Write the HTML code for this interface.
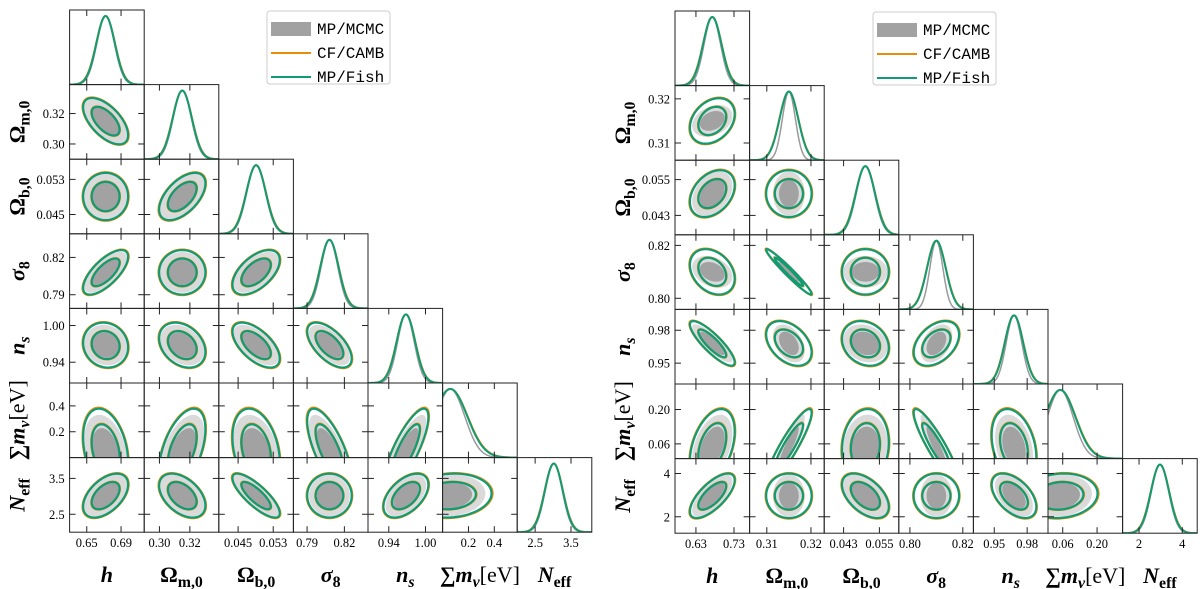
<!DOCTYPE html>
<html><head><meta charset="utf-8">
<style>
html,body{margin:0;padding:0;background:#fff;}
svg{display:block;}
</style></head>
<body>
<svg id="fig" width="1200" height="589" viewBox="0 0 1200 589" xmlns="http://www.w3.org/2000/svg"></svg>
<script>
// ---------- data: left panel ----------
const paramKeys = ['h','omega-m','omega-b','sigma8','ns','sum-mnu','neff'];
const lo1 = [0.630, 0.290, 0.0406, 0.779, 0.906, 0.0, 2.00];
const hi1 = [0.717, 0.339, 0.0576, 0.839, 1.028, 0.577, 4.08];
const mean1 = [0.672, 0.315, 0.0491, 0.808, 0.968, 0.06, 3.02];
const sig1 = [0.0107, 0.0062, 0.0022, 0.0073, 0.015, 0.13, 0.25];
const corr1 = [[],[-0.6],[0.0,0.55],[0.7,0.0,0.55],[-0.1,-0.3,-0.6,-0.6],[-0.3,0.5,-0.3,-0.7,0.8],[0.5,-0.45,-0.8,0.0,0.5,0.1]];
const mcmcScale1 = [0.95,0.95,0.96,0.92,0.9,0.85,0.95];
const ticks1 = [['0.65','0.69'],['0.30','0.32'],['0.045','0.053'],['0.79','0.82'],['0.94','1.00'],['0.2','0.4'],['2.5','3.5']];
// ---------- data: right panel ----------
const lo2 = [0.575, 0.3061, 0.0365, 0.7958, 0.931, 0.0, 1.24];
const hi2 = [0.771, 0.323, 0.0615, 0.824, 0.999, 0.304, 4.69];
const mean2 = [0.673, 0.315, 0.0503, 0.81, 0.968, 0.05, 2.97];
const sig2 = [0.024, 0.0021, 0.0032, 0.0035, 0.0083, 0.062, 0.42];
const corr2 = [[],[0.3],[0.35,0.0],[-0.3,-0.97,0.0],[-0.85,-0.4,-0.2,0.4],[0.4,0.9,0.1,-0.9,-0.3],[0.7,0.0,-0.5,0.0,-0.5,0.1]];
const mcmcScale2 = [0.9,0.7,0.95,0.7,0.85,0.85,0.95];
const ticks2 = [['0.63','0.73'],['0.31','0.32'],['0.043','0.055'],['0.80','0.82'],['0.95','0.98'],['0.06','0.20'],['2','4']];
const legendLabels = ['MP/MCMC','CF/CAMB','MP/Fish'];

const NS='http://www.w3.org/2000/svg';
const svg=document.getElementById('fig');
const C=74.6, N=7;
const GREEN='#119b75', ORANGE='#e88d0a', G1='#dadada', G2='#a2a2a2', GL='#9a9a9a';
const K1=1.52, K2=2.45;
function mk(tag,attrs,parent){const e=document.createElementNS(NS,tag);for(const k in attrs)e.setAttribute(k,attrs[k]);(parent||svg).appendChild(e);return e;}
const labelHTML=[
 '<tspan font-style="italic">h</tspan>',
 'Ω<tspan font-size="72%" dy="5">m,0</tspan>',
 'Ω<tspan font-size="72%" dy="5">b,0</tspan>',
 '<tspan font-style="italic">σ</tspan><tspan font-size="72%" dy="5">8</tspan>',
 '<tspan font-style="italic">n</tspan><tspan font-size="72%" dy="5" font-style="italic">s</tspan>',
 '∑<tspan font-style="italic">m</tspan><tspan font-size="72%" dy="5" font-style="italic">ν</tspan><tspan dy="-5" font-weight="normal">[eV]</tspan>',
 '<tspan font-style="italic">N</tspan><tspan font-size="72%" dy="5">eff</tspan>'
];

function drawPanel(pid,x0,y0,lo,hi,mean,sig,corr,mscale,ticks,legX){
  const g=mk('g',{});
  
  
  const X=(j,v)=>x0+j*C+(v-lo[j])/(hi[j]-lo[j])*C;
  const Y=(i,v)=>y0+(i+1)*C-(v-lo[i])/(hi[i]-lo[i])*C;
  const defs=mk('defs',{},g);
  for(let i=0;i<N;i++){
    for(let j=0;j<=i;j++){
      const cx=x0+j*C, cy=y0+i*C;
      const cid='clip-'+pid+'-'+i+'-'+j;
      const cp=mk('clipPath',{id:cid},defs);
      mk('rect',{x:cx,y:cy,width:C,height:C},cp);
      const cell=mk('g',{'clip-path':'url(#'+cid+')'},g);
      
      
      if(i===j){
        const curve=(s)=>{let mx=0,vals=[];for(let k=0;k<=120;k++){const v=lo[i]+(hi[i]-lo[i])*k/120;const p=Math.exp(-0.5*Math.pow((v-mean[i])/s,2));vals.push([v,p]);mx=Math.max(mx,p);}
          return vals.map(([v,p])=>X(i,v).toFixed(2)+','+(cy+C-p/mx*0.92*C).toFixed(2)).join(' ');};
        const a=mk('polyline',{points:curve(sig[i]*mscale[i]),fill:'none',stroke:GL,'stroke-width':1.5},cell);
        
        const b=mk('polyline',{points:curve(sig[i]*1.02),fill:'none',stroke:ORANGE,'stroke-width':2},cell);
        
        const c=mk('polyline',{points:curve(sig[i]),fill:'none',stroke:GREEN,'stroke-width':2},cell);
        
      } else {
        const r=corr[i][j];
        const ell=(k,sc)=>{let pts=[];for(let t=0;t<=72;t++){const a=t/72*2*Math.PI;const u=k*Math.cos(a),w=k*Math.sin(a);
          const vx=mean[j]+sig[j]*sc[0]*u, vy=mean[i]+sig[i]*sc[1]*(r*u+Math.sqrt(1-r*r)*w);
          pts.push(X(j,vx).toFixed(2)+','+Y(i,vy).toFixed(2));}return pts.join(' ');};
        const ms=[mscale[j],mscale[i]];
        const e1=mk('polygon',{points:ell(K2,ms),fill:G1,stroke:'none'},cell);
        
        const e2=mk('polygon',{points:ell(K1,ms),fill:G2,stroke:'none'},cell);
        
        for(const [col,sc,nm] of [[ORANGE,[1.025,1.025],'camb'],[GREEN,[1,1],'fish']]){
          for(const [k,lv] of [[K2,'95'],[K1,'68']]){
            const p=mk('polygon',{points:ell(k,sc),fill:'none',stroke:col,'stroke-width':2.2},cell);
            
          }
        }
      }
      const br=mk('rect',{x:cx,y:cy,width:C,height:C,fill:'none',stroke:'#222','stroke-width':1},g);
      
      for(const t of ticks[j]){const tx=X(j,parseFloat(t));
        mk('line',{x1:tx,x2:tx,y1:cy+C,y2:cy+C-6,stroke:'#222','stroke-width':1},g);
        mk('line',{x1:tx,x2:tx,y1:cy,y2:cy+6,stroke:'#222','stroke-width':1},g);}
      if(i!==j){for(const t of ticks[i]){const ty=Y(i,parseFloat(t));
        mk('line',{x1:cx,x2:cx+6,y1:ty,y2:ty,stroke:'#222','stroke-width':1},g);
        mk('line',{x1:cx+C,x2:cx+C-6,y1:ty,y2:ty,stroke:'#222','stroke-width':1},g);}}
    }
  }
  for(let j=0;j<N;j++){
    for(const t of ticks[j]){
      const tl=mk('text',{x:X(j,parseFloat(t)),y:y0+N*C+15,'text-anchor':'middle','font-family':'"Liberation Serif",serif','font-size':12.5},g);
      tl.textContent=t;
    }
    const xl=mk('text',{x:x0+j*C+C/2,y:y0+N*C+50,'text-anchor':'middle','font-family':'"Liberation Serif",serif','font-size':22,'font-weight':'bold'},g);
    xl.innerHTML=labelHTML[j];
  }
  for(let i=1;i<N;i++){
    for(const t of ticks[i]){
      const tl=mk('text',{x:x0-5,y:Y(i,parseFloat(t))+4.5,'text-anchor':'end','font-family':'"Liberation Serif",serif','font-size':12.5},g);
      tl.textContent=t;
    }
    const yx=x0-45, yy=y0+i*C+C/2;
    const yl=mk('text',{x:yx,y:yy,'text-anchor':'middle','font-family':'"Liberation Serif",serif','font-size':22,'font-weight':'bold',transform:'rotate(-90 '+yx+' '+yy+')'},g);
    yl.innerHTML=labelHTML[i];
  }
  const lg=mk('g',{},g);
  
  mk('rect',{x:legX,y:y0+1,width:123,height:73,rx:3,fill:'#fff',stroke:'#ccc','stroke-width':1},lg);
  const rows=[y0+19,y0+43,y0+67];
  for(let k=0;k<3;k++){
    const e=mk('g',{},lg);
    
    
    if(k===0) mk('rect',{x:legX+4,y:rows[k]-7,width:40,height:14,fill:G2},e);
    else mk('line',{x1:legX+4,x2:legX+44,y1:rows[k],y2:rows[k],stroke:k===1?ORANGE:GREEN,'stroke-width':2},e);
    const tx=mk('text',{x:legX+50,y:rows[k]+5,'font-family':'"Liberation Mono",monospace','font-size':16},e);
    tx.textContent=legendLabels[k];
  }
}
drawPanel('left',69.6,10,lo1,hi1,mean1,sig1,corr1,mcmcScale1,ticks1,267);
drawPanel('right',675,11,lo2,hi2,mean2,sig2,corr2,mcmcScale2,ticks2,873);
</script>
</body></html>
